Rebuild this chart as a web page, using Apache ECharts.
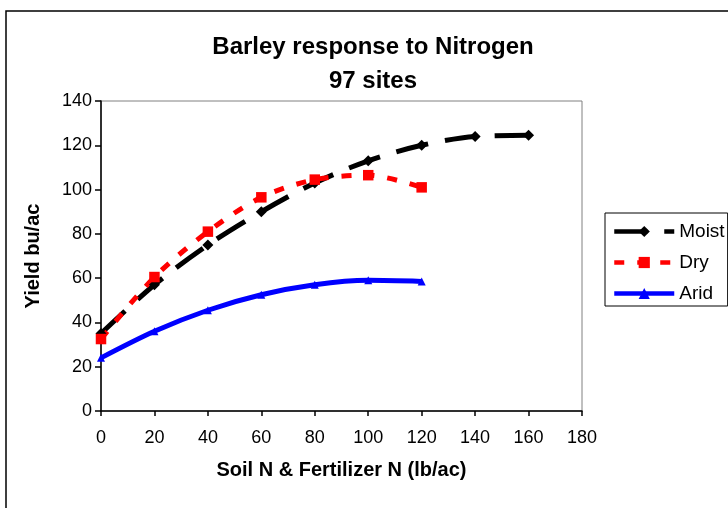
<!DOCTYPE html>
<html>
<head>
<meta charset="utf-8">
<script src="https://cdn.jsdelivr.net/npm/echarts@6/dist/echarts.min.js"></script>
<style>
html,body{margin:0;padding:0;background:#fff;}
#chart{width:728px;height:508px;}
</style>
</head>
<body>
<div id="chart"></div>
<script>
const titleText = 'Barley response to Nitrogen\n97 sites';
const xAxisName = 'Soil N & Fertilizer N (lb/ac)';
const yAxisName = 'Yield bu/ac';
const seriesNames = ['Moist', 'Dry', 'Arid'];
const xValues = [0, 20, 40, 60, 80, 100, 120, 140, 160];
const moist = [35, 57, 75, 90, 103, 113, 120, 124, 124.5];
const dry = [32.5, 60.5, 81, 96.5, 104.5, 106.5, 101];
const arid = [24, 36, 45.5, 52.5, 57, 59, 58.5];

const FONT = '"Liberation Sans", Arial, sans-serif';
function pairs(vals) { return vals.map((v, i) => [xValues[i], v]); }

const chart = echarts.init(document.getElementById('chart'));
chart.setOption({
  animation: false,
  backgroundColor: '#fff',
  graphic: [
    { type: 'rect', shape: { x: 6, y: 11, width: 1000, height: 1000 },
      style: { fill: 'none', stroke: '#000', lineWidth: 1.5 }, z: 0 },
    { type: 'text', x: 373, y: 30,
      style: { text: titleText, align: 'center', verticalAlign: 'top',
        font: 'bold 24px ' + FONT, lineHeight: 34, fill: '#000' } }
  ],
  grid: { left: 101, right: 146, top: 101, bottom: 97, show: true,
    borderColor: '#808080', borderWidth: 1, backgroundColor: 'transparent' },
  legend: {
    orient: 'vertical', left: 605, top: 213,
    padding: [9, 3, 3, 7], itemGap: 12, itemWidth: 60, itemHeight: 14,
    borderColor: '#000', borderWidth: 1, backgroundColor: '#fff',
    lineStyle: { width: 4.5 },
    textStyle: { fontFamily: FONT, fontSize: 19, color: '#000', lineHeight: 19 },
    data: seriesNames
  },
  xAxis: {
    type: 'value', min: 0, max: 180, interval: 20,
    name: xAxisName, nameLocation: 'middle', nameGap: 49,
    nameTextStyle: { fontFamily: FONT, fontSize: 20, fontWeight: 'bold', color: '#000' },
    axisLine: { show: true, lineStyle: { color: '#000', width: 1.5 } },
    axisTick: { show: true, inside: false, length: 5, lineStyle: { color: '#000', width: 1.5 } },
    splitLine: { show: false },
    axisLabel: { fontFamily: FONT, fontSize: 18, color: '#000', margin: 18 }
  },
  yAxis: {
    type: 'value', min: 0, max: 140, interval: 20,
    name: yAxisName, nameLocation: 'middle', nameGap: 58,
    nameTextStyle: { fontFamily: FONT, fontSize: 20, fontWeight: 'bold', color: '#000' },
    axisLine: { show: true, lineStyle: { color: '#000', width: 1.5 } },
    axisTick: { show: true, inside: false, length: 6, lineStyle: { color: '#000', width: 1.5 } },
    splitLine: { show: false },
    axisLabel: { fontFamily: FONT, fontSize: 18, color: '#000', margin: 9 }
  },
  series: [
    { name: seriesNames[0], type: 'line', data: pairs(moist), smooth: 0.3,
      symbol: 'diamond', symbolSize: 11,
      lineStyle: { color: '#000', width: 5, type: [33, 17] },
      itemStyle: { color: '#000' } },
    { name: seriesNames[1], type: 'line', data: pairs(dry), smooth: 0.3,
      symbol: 'rect', symbolSize: 10.5,
      lineStyle: { color: '#ff0000', width: 5, type: [10, 13] },
      itemStyle: { color: '#ff0000' } },
    { name: seriesNames[2], type: 'line', data: pairs(arid), smooth: 0.3,
      symbol: 'triangle', symbolSize: 8,
      lineStyle: { color: '#0000ff', width: 5, type: 'solid' },
      itemStyle: { color: '#0000ff' } }
  ]
});
</script>
</body>
</html>
